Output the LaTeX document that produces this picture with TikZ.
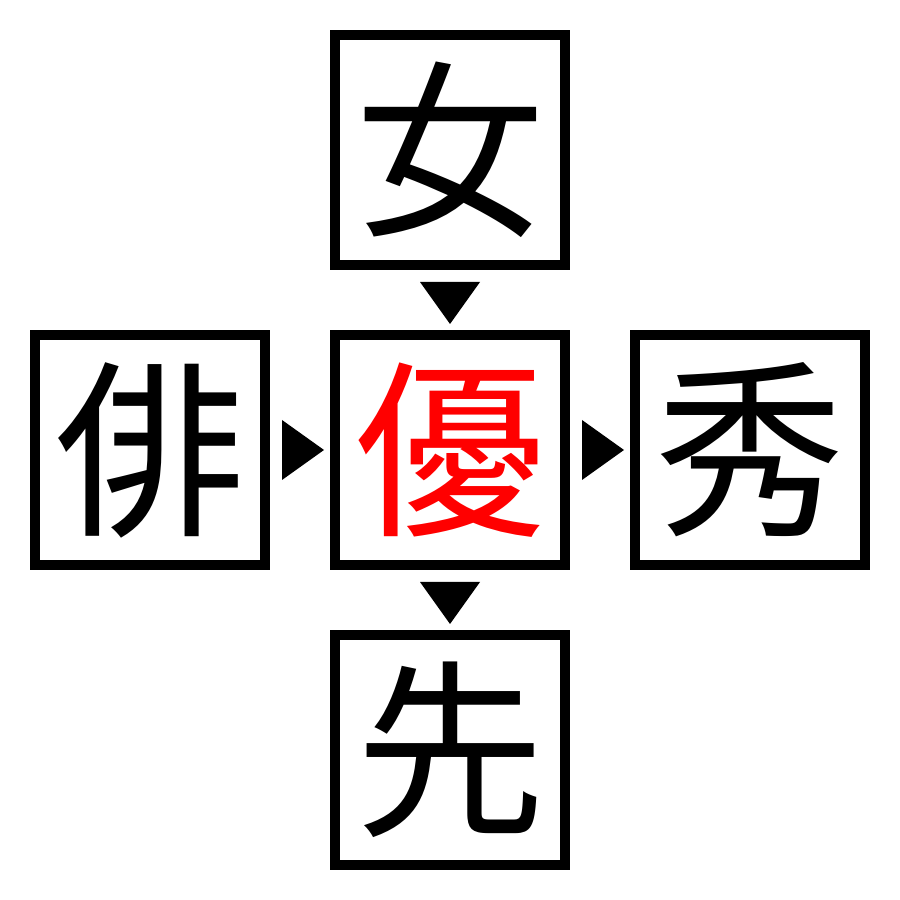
\documentclass[tikz,border=0pt]{standalone}
\usepackage{fontspec}
\usetikzlibrary{calc}
\newfontfamily\cjk{Noto Sans CJK JP}
\begin{document}
\begin{tikzpicture}[x=1pt,y=1pt,
  kbox/.style={draw=black,line width=10pt,minimum size=230pt,inner sep=0pt,font=\cjk\fontsize{190}{190}\selectfont},
  tri/.style={fill=black,draw=none}]
\useasboundingbox (0,0) rectangle (900,900);
\node[kbox] (top) at (450,750) {女};
\node[kbox,text=red] (c) at (450,450) {優};
\node[kbox] (l) at (150,450) {俳};
\node[kbox] (r) at (750,450) {秀};
\node[kbox] (b) at (450,150) {先};
\coordinate (m1) at ($(top.south)!0.5!(c.north)$);
\coordinate (m2) at ($(c.south)!0.5!(b.north)$);
\coordinate (m3) at ($(l.east)!0.5!(c.west)$);
\coordinate (m4) at ($(c.east)!0.5!(r.west)$);
\foreach \m in {m1,m2} \fill[tri] ([shift={(-30,18)}]\m) -- ([shift={(30,18)}]\m) -- ([shift={(0,-24)}]\m) -- cycle;
\foreach \m in {m3,m4} \fill[tri] ([shift={(-18,30)}]\m) -- ([shift={(24,0)}]\m) -- ([shift={(-18,-30)}]\m) -- cycle;
\end{tikzpicture}
\end{document}
